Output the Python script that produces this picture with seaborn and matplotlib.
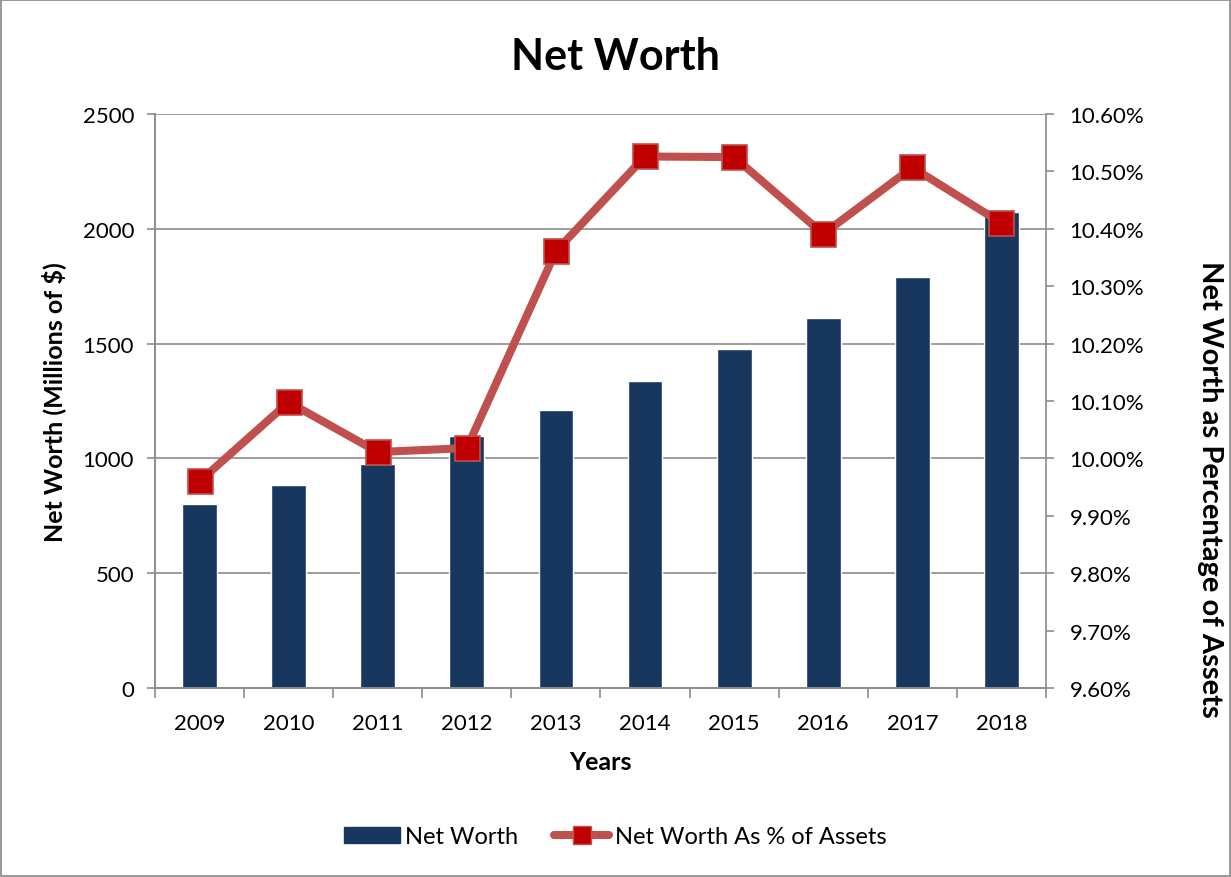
import matplotlib
matplotlib.use("Agg")
import matplotlib.pyplot as plt
import seaborn as sns
import pandas as pd
from matplotlib.lines import Line2D
from matplotlib.patches import Patch
from matplotlib.ticker import FuncFormatter, MultipleLocator

years = ["2009", "2010", "2011", "2012", "2013", "2014", "2015", "2016", "2017", "2018"]
net_worth = [801, 884, 976, 1096, 1211, 1339, 1476, 1611, 1789, 2072]
pct_assets = [9.960, 10.098, 10.011, 10.018, 10.361, 10.526, 10.525, 10.391, 10.507, 10.410]

bar_color = "#17375E"
line_color = "#C0504D"
marker_color = "#C00000"
grid_color = "#8C8C8C"

sns.set_theme(style="white")
plt.rcParams["font.family"] = ["Lato", "DejaVu Sans"]
plt.rcParams["text.color"] = "black"
plt.rcParams["axes.labelcolor"] = "black"

df = pd.DataFrame({"year": years, "nw": net_worth, "pct": pct_assets})

fig = plt.figure(figsize=(12.31, 8.78), dpi=100)
ax = fig.add_axes([0.1259, 0.2153, 0.7238, 0.6537])

sns.barplot(data=df, x="year", y="nw", color=bar_color, width=0.39,
            saturation=1, ax=ax)

ax2 = ax.twinx()
sns.pointplot(data=df, x="year", y="pct", color=line_color, markers="s",
              linewidth=5.8, markersize=18, markerfacecolor=marker_color,
              markeredgecolor=line_color, markeredgewidth=1.2, ax=ax2)

ax.set_xlim(-0.5, len(years) - 0.5)
ax.set_ylim(0, 2500)
ax.yaxis.set_major_locator(MultipleLocator(500))
ax2.set_ylim(9.6, 10.6)
ax2.yaxis.set_major_locator(MultipleLocator(0.1))
ax2.yaxis.set_major_formatter(FuncFormatter(lambda v, p: "{:.2f}%".format(v)))

ax.grid(axis="y", color=grid_color, linewidth=1.2)
ax.set_axisbelow(True)
ax2.grid(False)

for a in (ax, ax2):
    a.spines["top"].set_visible(False)
    for s in ("left", "right", "bottom"):
        a.spines[s].set_color(grid_color)
        a.spines[s].set_linewidth(1.2)
ax.spines["right"].set_visible(False)

ax.set_xticks(range(len(years)))
ax.set_xticklabels(years)
ax.set_xticks([i - 0.5 for i in range(len(years) + 1)], minor=True)
ax.tick_params(axis="x", which="major", length=0, labelsize=16, pad=18, labelcolor="black")
ax.tick_params(axis="x", which="minor", length=7, width=1.2, color=grid_color, bottom=True)
ax.tick_params(axis="y", length=6, width=1.2, color=grid_color, labelsize=16,
               labelcolor="black", left=True, pad=9)
ax2.tick_params(axis="y", length=6, width=1.2, color=grid_color, labelsize=16,
                labelcolor="black", right=True, pad=11)

ax.set_xlabel("Years", fontsize=18, fontweight="bold", labelpad=12)
ax.set_ylabel("Net Worth (Millions of $)", fontsize=18, fontweight="bold", labelpad=12)
ax2.set_ylabel("Net Worth as Percentage of Assets", fontsize=21, fontweight="bold",
               rotation=-90, va="center")
ax2.yaxis.set_label_coords(1.184, 0.347)

fig.suptitle("Net Worth", fontsize=31, fontweight="bold", y=0.958, color="black")

handles = [Patch(facecolor=bar_color, edgecolor=bar_color),
           Line2D([0], [0], color=line_color, linewidth=5.8, marker="s", markersize=13,
                  markerfacecolor=marker_color, markeredgecolor=line_color)]
fig.legend(handles, ["Net Worth", "Net Worth As % of Assets"], loc="center",
           bbox_to_anchor=(0.5, 0.046), ncol=2, frameon=False, fontsize=17,
           handlelength=2.35, handletextpad=0.25, columnspacing=1.5)

fig.patch.set_edgecolor("#9A9A9A")
fig.patch.set_linewidth(1.5)

fig.savefig("out.png", dpi=100, edgecolor=fig.get_edgecolor())
